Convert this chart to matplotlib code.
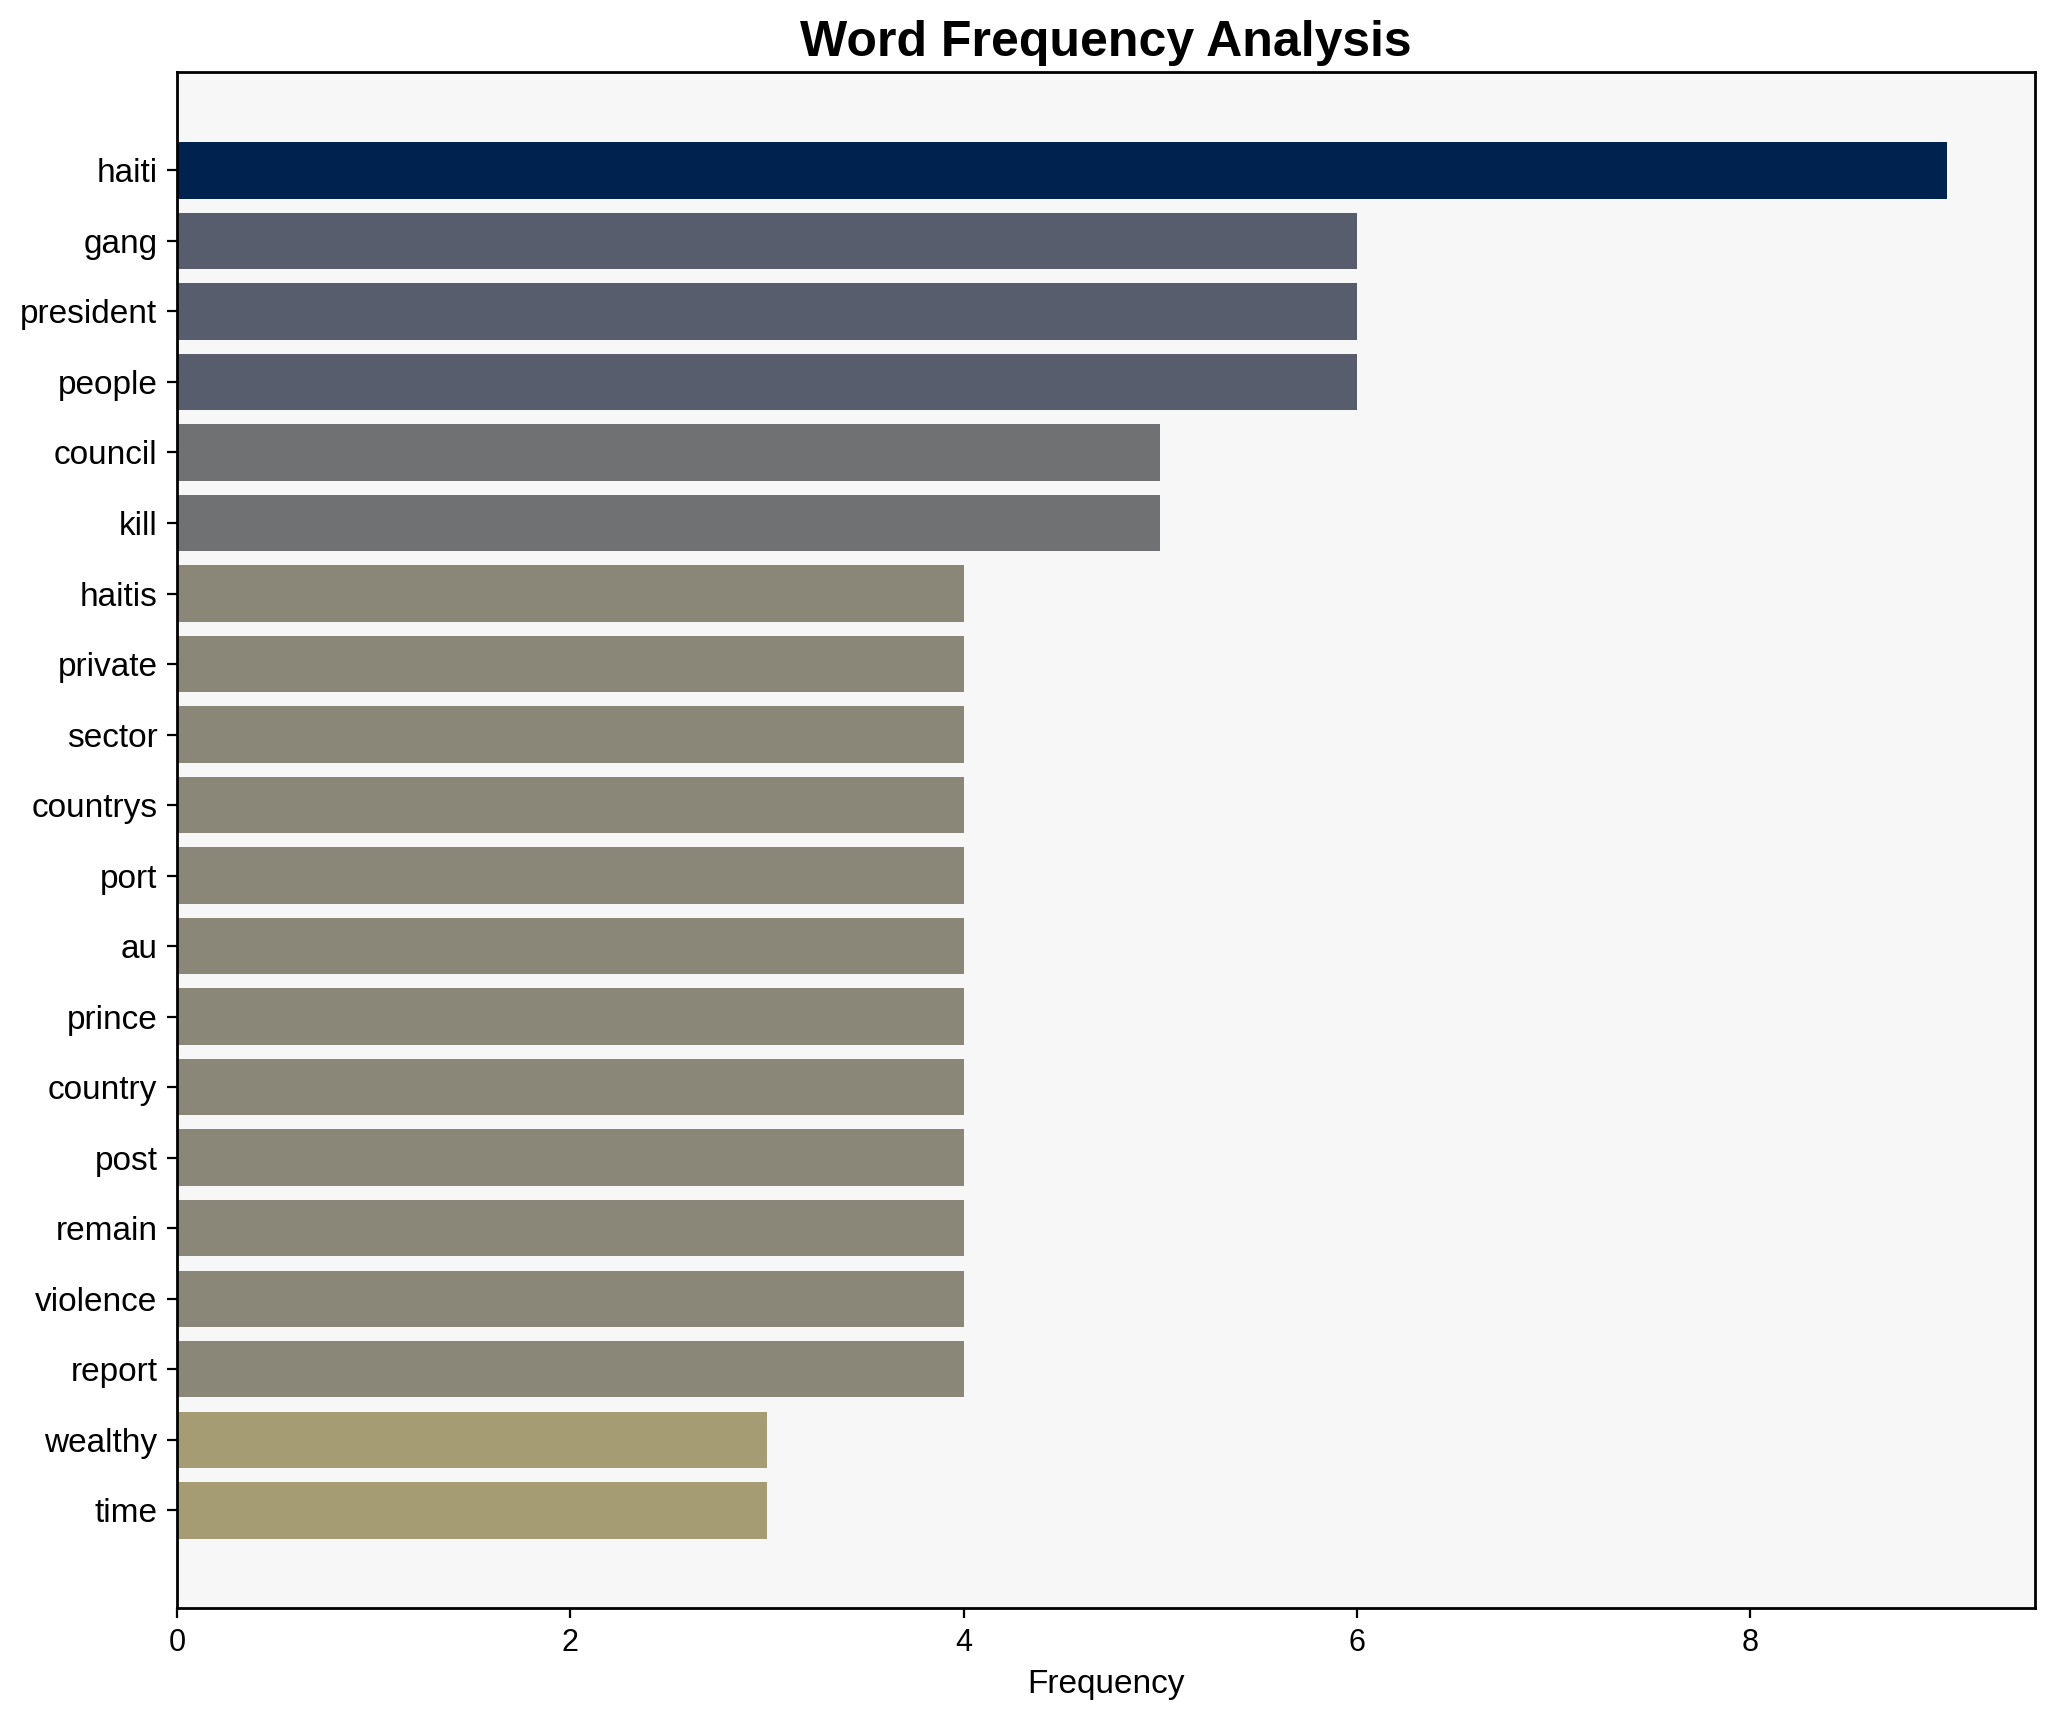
import numpy as np
import matplotlib
matplotlib.use("Agg")
import matplotlib.pyplot as plt

words = ['haiti', 'gang', 'president', 'people', 'council', 'kill', 'haitis',
         'private', 'sector', 'countrys', 'port', 'au', 'prince', 'country',
         'post', 'remain', 'violence', 'report', 'wealthy', 'time']
counts = [9, 6, 6, 6, 5, 5, 4, 4, 4, 4, 4, 4, 4, 4, 4, 4, 4, 4, 3, 3]

plt.rcParams['font.family'] = ['Liberation Sans', 'DejaVu Sans']

fig, ax = plt.subplots(figsize=(10.28, 8.61), dpi=200)
fig.subplots_adjust(left=0.086, right=0.99, top=0.958, bottom=0.066)

vals = np.array(counts, dtype=float)
colors = plt.cm.cividis_r(vals / vals.max())
y = np.arange(len(words))
ax.barh(y, vals, color=colors, height=0.8)
ax.set_yticks(y)
ax.set_yticklabels(words, fontsize=12)
ax.invert_yaxis()
ax.tick_params(axis='x', labelsize=11)
ax.set_facecolor('#f7f7f7')
for s in ax.spines.values():
    s.set_color('black')
    s.set_linewidth(1.0)

ax.set_xlabel('Frequency', fontsize=12)
ax.set_title('Word Frequency Analysis', fontsize=18, fontweight='bold')

fig.savefig('out.png', dpi=200)
